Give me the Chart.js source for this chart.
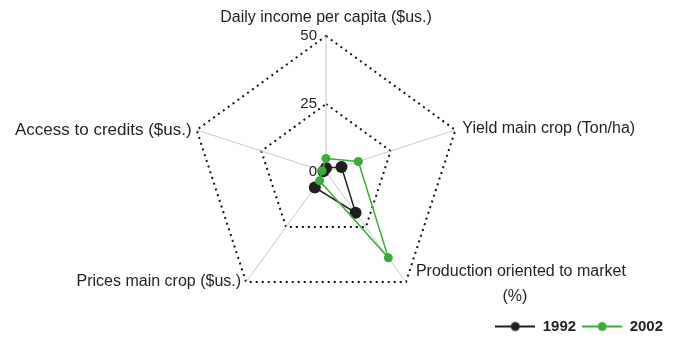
<!DOCTYPE html>
<html>
<head>
<meta charset="utf-8">
<script src="https://cdn.jsdelivr.net/npm/chart.js@4.4.0/dist/chart.umd.min.js"></script>
<style>
  html, body { margin: 0; padding: 0; background: #fff; }
  canvas { display: block; }
</style>
</head>
<body>
<canvas id="chartRadar" width="680" height="338"></canvas>
<script>
// Radar: farm indicators, 1992 vs 2002

const AXES = [
  'Daily income per capita ($us.)',
  'Yield main crop (Ton/ha)',
  ['Production oriented to market', '(%)'],
  'Prices main crop ($us.)',
  'Access to credits ($us.)',
];
const YEARS = ['1992', '2002'];
const VALUES_1992 = [1.5, 6, 18.5, 7, 1];
const VALUES_2002 = [5, 12.5, 39, 4, 1.5];
const TICKS = [0, 25, 50];

const INK = '#231f20';
const BLACK = '#1f1f1f';
const GREEN = '#3dab3a';
const FONT = '"Liberation Sans", Arial, sans-serif';

// radar geometry inside the 680x338 canvas
const CENTER_X = 326, CENTER_Y = 172, RADIUS = 136;

// where each axis title sits relative to the outer vertex
const TITLE_PLACE = [
  { dx: 0, dy: -18, align: 'center', size: 16 },
  { dx: 7, dy: -1, align: 'left', size: 16 },
  { dx: 10, dy: -10, align: 'left', size: 16 },
  { dx: -5, dy: 0, align: 'right', size: 16 },
  { dx: -5, dy: 0, align: 'right', size: 17 },
];

function legendMark(color, r) {
  const c = document.createElement('canvas');
  c.width = 40; c.height = 12;
  const g = c.getContext('2d');
  g.strokeStyle = color; g.lineWidth = 2;
  g.beginPath(); g.moveTo(0, 6); g.lineTo(40, 6); g.stroke();
  g.fillStyle = color;
  g.beginPath(); g.arc(20, 6, r, 0, Math.PI * 2); g.fill();
  return c;
}
const MARKS = [legendMark(BLACK, 4.5), legendMark(GREEN, 4.5)];

const axisText = {
  id: 'axisText',
  afterDraw(chart) {
    const s = chart.scales.r;
    const ctx = chart.ctx;
    ctx.save();
    ctx.fillStyle = INK;
    ctx.textBaseline = 'middle';

    // tick values, right-aligned just left of the top axis
    ctx.font = '15px ' + FONT;
    ctx.textAlign = 'right';
    TICKS.forEach(v => {
      ctx.fillText(String(v), s.xCenter - 9, s.yCenter - s.getDistanceFromCenterForValue(v));
    });

    // axis titles
    AXES.forEach((label, i) => {
      const p = s.getPointPosition(i, s.drawingArea);
      const place = TITLE_PLACE[i];
      const lines = [].concat(label);
      const x = p.x + place.dx, y = p.y + place.dy;
      ctx.font = place.size + 'px ' + FONT;
      ctx.textAlign = place.align;
      ctx.fillText(lines[0], x, y);
      if (lines.length > 1) {
        const w = ctx.measureText(lines[0]).width;
        ctx.textAlign = 'center';
        ctx.fillText(lines[1], x + w / 2 - 6, y + 25);
      }
    });
    ctx.restore();
  }
};

new Chart(document.getElementById('chartRadar'), {
  type: 'radar',
  data: {
    labels: AXES,
    datasets: [
      {
        label: YEARS[0], data: VALUES_1992, order: 2,
        borderColor: BLACK, backgroundColor: BLACK, borderWidth: 1.5,
        pointRadius: 6, pointBackgroundColor: BLACK, pointBorderWidth: 0,
        fill: false,
      },
      {
        label: YEARS[1], data: VALUES_2002, order: 1,
        borderColor: GREEN, backgroundColor: GREEN, borderWidth: 1.5,
        pointRadius: 4.5, pointBackgroundColor: GREEN, pointBorderWidth: 0,
        fill: false,
      },
    ]
  },
  options: {
    responsive: false,
    animation: false,
    layout: { padding: { right: 11, bottom: -6 } },
    elements: { line: { tension: 0 } },
    scales: {
      r: {
        min: 0, max: 50,
        afterBuildTicks: (sc) => { sc.ticks = TICKS.map(v => ({ value: v })); },
        afterFit: (sc) => {
          sc.xCenter = CENTER_X;
          sc.yCenter = CENTER_Y;
          sc.drawingArea = RADIUS;
        },
        ticks: { display: false, showLabelBackdrop: false },
        pointLabels: { display: false },
        grid: { color: '#111', lineWidth: 2 },
        border: { dash: [2, 4] },
        angleLines: { color: '#c8c8d0', lineWidth: 1 },
      }
    },
    plugins: {
      tooltip: { enabled: false },
      legend: {
        position: 'bottom',
        align: 'end',
        labels: {
          usePointStyle: true,
          pointStyleWidth: 40,
          boxHeight: 12,
          padding: 6,
          color: INK,
          font: { family: FONT, size: 15, weight: 'bold' },
          generateLabels(chart) {
            const items = Chart.defaults.plugins.legend.labels.generateLabels(chart);
            items.forEach(it => { it.pointStyle = MARKS[it.datasetIndex]; });
            return items.sort((a, b) => a.datasetIndex - b.datasetIndex);
          }
        }
      }
    }
  },
  plugins: [axisText]
});
</script>
</body>
</html>
